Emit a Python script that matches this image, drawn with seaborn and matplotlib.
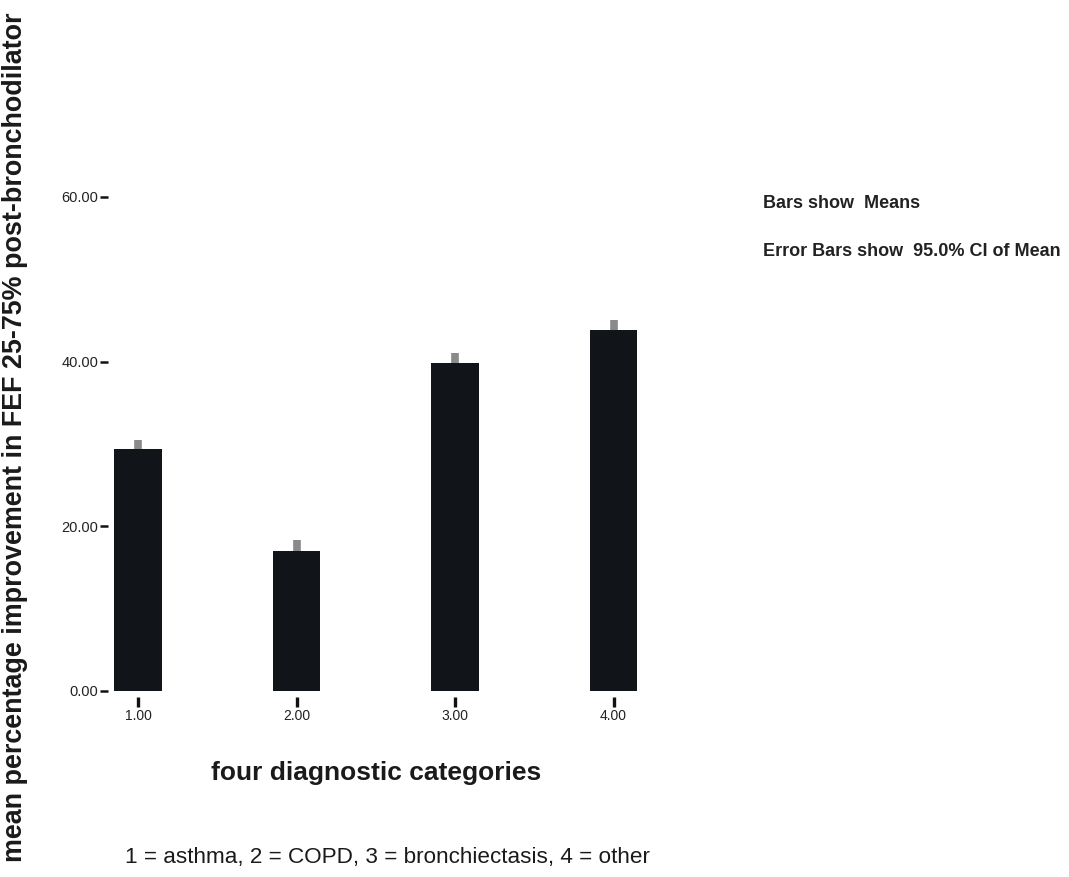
import matplotlib
matplotlib.use("Agg")
import matplotlib.pyplot as plt
import seaborn as sns
import pandas as pd

# Mean improvement per diagnostic category and the half-width of its 95% CI
categories = ["1.00", "2.00", "3.00", "4.00"]
means = [29.4, 17.0, 39.8, 43.8]
ci_half = [1.1, 1.3, 1.2, 1.2]
y_ticks = [0, 20, 40, 60]
y_tick_labels = ["0.00", "20.00", "40.00", "60.00"]

sns.set_theme(style="white")
plt.rcParams["font.family"] = ["Liberation Sans", "DejaVu Sans"]

W, H = 1069, 877
fig = plt.figure(figsize=(W / 100, H / 100), dpi=100)
fig.patch.set_facecolor("white")

left, right, bottom, top = 108, 700, 691, 197
ax = fig.add_axes([left / W, 1 - bottom / H, (right - left) / W, (bottom - top) / H])
ax.set_facecolor("white")

df = pd.DataFrame({"category": categories, "mean": means})

# 95% CI bars sit behind the bars, so only the upper part shows
ax.errorbar(range(len(categories)), means, yerr=ci_half, fmt="none",
            ecolor="#8a8a8a", elinewidth=5.5, capsize=0, zorder=0.5)
sns.barplot(data=df, x="category", y="mean", order=categories, color="#111418",
            width=0.30, errorbar=None, saturation=1, ax=ax, zorder=1,
            edgecolor="#111418", linewidth=0)

ax.set_xlim(-0.19, 3.545)
ax.set_ylim(0, 60)
ax.set_yticks(y_ticks)
ax.set_yticklabels(y_tick_labels)
ax.set_xlabel("")
ax.set_ylabel("")

for s in ax.spines.values():
    s.set_visible(False)
ax.spines["bottom"].set_position(("outward", 4))

ax.tick_params(axis="y", left=True, length=6, width=1.8, color="#111111",
               pad=1, labelsize=10.5, labelcolor="#222222")
ax.tick_params(axis="x", bottom=True, length=7, width=2.4, color="#111111",
               pad=2, labelsize=10, labelcolor="#222222")

fig.text(15 / W, 1 - 437 / H,
         "mean percentage improvement in FEF 25-75% post-bronchodilator",
         rotation=90, ha="center", va="center", fontsize=19.4,
         fontweight="bold", color="#1a1a1a")
fig.text(376 / W, 1 - 773 / H, "four diagnostic categories",
         ha="center", va="center", fontsize=19, fontweight="bold", color="#1a1a1a")
fig.text(125 / W, 1 - 857 / H,
         "1 = asthma, 2 = COPD, 3 = bronchiectasis, 4 = other",
         ha="left", va="center", fontsize=16.2, color="#1a1a1a")
fig.text(763 / W, 1 - 204 / H, "Bars show  Means",
         ha="left", va="center", fontsize=13, fontweight="bold", color="#222222")
fig.text(763 / W, 1 - 252 / H, "Error Bars show  95.0% CI of Mean",
         ha="left", va="center", fontsize=13, fontweight="bold", color="#222222")

fig.savefig("out.png", dpi=100, facecolor="white")
